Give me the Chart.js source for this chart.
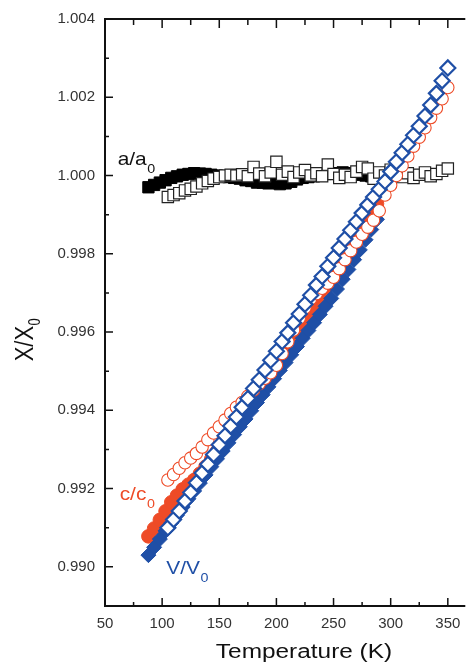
<!DOCTYPE html>
<html lang="en">
<head>
<meta charset="UTF-8">
<title>Lattice parameters vs temperature</title>
<script src="https://cdn.jsdelivr.net/npm/chart.js"></script>
<style>
  html, body { margin: 0; padding: 0; background: #fff; }
</style>
</head>
<body>
<canvas id="latticeChart" width="475" height="664"></canvas>
<script>
// temperatures (K)
const tFilled = [88, 93, 98, 103, 108, 113, 118, 123, 128, 133, 138, 143, 148, 153, 158, 163, 168, 173, 178, 183,
  188, 193, 198, 203, 208, 213, 218, 223, 228, 233, 238, 243, 248, 253, 258, 263, 268, 273, 278, 283, 288, 293, 298];
const tOpen = [105, 110, 115, 120, 125, 130, 135, 140, 145, 150, 155, 160, 165, 170, 175, 180, 185, 190, 195, 200,
  205, 210, 215, 220, 225, 230, 235, 240, 245, 250, 255, 260, 265, 270, 275, 280, 285, 290, 295, 300,
  305, 310, 315, 320, 325, 330, 335, 340, 345, 350];

// a/a0
const aFilled = [0.99970, 0.99976, 0.99982, 0.99988, 0.99994, 0.99998, 1.00002, 1.00004, 1.00006, 1.00005,
  1.00004, 1.00002, 1.00000, 0.99998, 0.99996, 0.99994, 0.99992, 0.99988, 0.99986, 0.99982,
  0.99982, 0.99980, 0.99982, 0.99978, 0.99980, 0.99984, 0.99990, 0.99994, 0.99996, 0.99998,
  1.00002, 1.00004, 1.00006, 1.00006, 1.00008, 1.00006, 1.00004, 1.00002, 1.00000, 0.99998,
  0.99996, 0.99996, 0.99994];
const aOpen = [0.99945, 0.99950, 0.99955, 0.99962, 0.99966, 0.99972, 0.99980, 0.99986, 0.99992, 0.99996,
  1.00000, 1.00002, 1.00000, 1.00003, 0.99998, 1.00022, 1.00005, 0.99998, 1.00008, 1.00035,
  1.00002, 1.00010, 0.99996, 1.00008, 1.00014, 1.00000, 1.00006, 0.99998, 1.00028, 1.00004,
  0.99994, 1.00002, 0.99996, 1.00010, 1.00022, 1.00018, 0.99992, 1.00008, 1.00000, 1.00015,
  1.00004, 0.99996, 1.00006, 0.99994, 1.00002, 1.00008, 0.99998, 1.00004, 1.00012, 1.00018];

// c/c0
const cFilled = [0.99078, 0.99098, 0.99120, 0.99142, 0.99165, 0.99182, 0.99198, 0.99210, 0.99222, 0.99238,
  0.99256, 0.99276, 0.99295, 0.99316, 0.99338, 0.99360, 0.99382, 0.99404, 0.99426, 0.99448,
  0.99468, 0.99488, 0.99508, 0.99528, 0.99550, 0.99572, 0.99594, 0.99616, 0.99640, 0.99664,
  0.99688, 0.99712, 0.99736, 0.99760, 0.99784, 0.99808, 0.99832, 0.99856, 0.99880, 0.99904,
  0.99928];
const cOpen = [0.99222, 0.99236, 0.99252, 0.99266, 0.99278, 0.99290, 0.99306, 0.99325, 0.99342, 0.99358,
  0.99375, 0.99392, 0.99408, 0.99420, 0.99436, 0.99452, 0.99468, 0.99482, 0.99496, 0.99515,
  0.99545, 0.99575, 0.99605, 0.99635, 0.99662, 0.99685, 0.99698, 0.99712, 0.99725, 0.99740,
  0.99762, 0.99785, 0.99808, 0.99830, 0.99850, 0.99868, 0.99886, 0.99910, 0.99950, 0.99975,
  1.00000, 1.00025, 1.00050, 1.00075, 1.00098, 1.00122, 1.00148, 1.00172, 1.00196, 1.00225];

// V/V0
const vFilled = [0.99030, 0.99050, 0.99071, 0.99092, 0.99112, 0.99132, 0.99153, 0.99174, 0.99194, 0.99214,
  0.99235, 0.99256, 0.99276, 0.99296, 0.99317, 0.99338, 0.99358, 0.99378, 0.99399, 0.99420,
  0.99440, 0.99460, 0.99481, 0.99502, 0.99522, 0.99542, 0.99563, 0.99584, 0.99604, 0.99624,
  0.99645, 0.99666, 0.99686, 0.99710, 0.99735, 0.99760, 0.99785, 0.99810, 0.99836, 0.99862,
  0.99888];
const vOpen = [0.99100, 0.99121, 0.99143, 0.99168, 0.99190, 0.99215, 0.99240, 0.99262, 0.99287, 0.99312,
  0.99335, 0.99360, 0.99383, 0.99408, 0.99430, 0.99456, 0.99478, 0.99503, 0.99528, 0.99551,
  0.99576, 0.99598, 0.99624, 0.99646, 0.99671, 0.99694, 0.99720, 0.99742, 0.99768, 0.99790,
  0.99815, 0.99838, 0.99860, 0.99882, 0.99904, 0.99925, 0.99945, 0.99965, 0.99985, 1.00010,
  1.00035, 1.00058, 1.00080, 1.00103, 1.00126, 1.00152, 1.00180, 1.00210, 1.00242, 1.00275];

// axis ticks
const xTicks = [50, 100, 150, 200, 250, 300, 350];
const xMinor = [75, 125, 175, 225, 275, 325];
const yTicks = [0.990, 0.992, 0.994, 0.996, 0.998, 1.000, 1.002, 1.004];
const yMinor = [0.991, 0.993, 0.995, 0.997, 0.999, 1.001, 1.003];

const BLUE = '#1f4fa6';
const RED = '#ee4b27';
const INK = '#111';

function pts(ts, vs) {
  return vs.map((v, i) => ({ x: ts[i], y: v }));
}

// label text with a subscript, anchored at data coordinates
function subLabel(ctx, chart, T, v, main, sub, color) {
  const px = chart.scales.x.getPixelForValue(T);
  const py = chart.scales.y.getPixelForValue(v);
  ctx.save();
  ctx.fillStyle = color;
  ctx.textAlign = 'left';
  ctx.textBaseline = 'alphabetic';
  ctx.translate(px, py);
  ctx.scale(1.1, 1);
  ctx.font = '19px "Liberation Sans", Arial, sans-serif';
  ctx.fillText(main, 0, 0);
  const w = ctx.measureText(main).width;
  ctx.font = '13px "Liberation Sans", Arial, sans-serif';
  ctx.fillText(sub, w + 0.5, 8);
  ctx.restore();
}

const frame = {
  id: 'frame',
  afterDraw(chart) {
    const { ctx, chartArea: a, scales: { x, y } } = chart;
    ctx.save();
    ctx.strokeStyle = INK;
    ctx.lineWidth = 2;
    ctx.beginPath();
    ctx.moveTo(a.right, a.top);
    ctx.lineTo(a.left, a.top);
    ctx.lineTo(a.left, a.bottom);
    ctx.lineTo(a.right, a.bottom);
    ctx.stroke();

    ctx.lineWidth = 1.5;
    ctx.beginPath();
    xTicks.forEach(v => {
      const p = x.getPixelForValue(v);
      ctx.moveTo(p, a.bottom); ctx.lineTo(p, a.bottom - 8);
      ctx.moveTo(p, a.top); ctx.lineTo(p, a.top + 9);
    });
    xMinor.forEach(v => {
      const p = x.getPixelForValue(v);
      ctx.moveTo(p, a.bottom); ctx.lineTo(p, a.bottom - 4);
      ctx.moveTo(p, a.top); ctx.lineTo(p, a.top + 6);
    });
    yTicks.forEach(v => {
      const p = y.getPixelForValue(v);
      ctx.moveTo(a.left, p); ctx.lineTo(a.left + 8, p);
    });
    yMinor.forEach(v => {
      const p = y.getPixelForValue(v);
      ctx.moveTo(a.left, p); ctx.lineTo(a.left + 4, p);
    });
    ctx.stroke();

    // x title
    ctx.fillStyle = INK;
    ctx.save();
    ctx.translate(304, 658);
    ctx.scale(1.22, 1);
    ctx.font = '20px "Liberation Sans", Arial, sans-serif';
    ctx.textAlign = 'center';
    ctx.fillText('Temperature (K)', 0, 0);
    ctx.restore();

    // y title
    ctx.save();
    ctx.translate(33, 340);
    ctx.rotate(-Math.PI / 2);
    ctx.scale(1, 1.2);
    ctx.font = '22px "Liberation Sans", Arial, sans-serif';
    const wm = ctx.measureText('X/X').width;
    ctx.font = '13px "Liberation Sans", Arial, sans-serif';
    const ws = ctx.measureText('0').width;
    const x0 = -(wm + ws) / 2;
    ctx.font = '22px "Liberation Sans", Arial, sans-serif';
    ctx.fillText('X/X', x0, 0);
    ctx.font = '13px "Liberation Sans", Arial, sans-serif';
    ctx.fillText('0', x0 + wm + 0.5, 6);
    ctx.restore();

    subLabel(ctx, chart, 61.1, 1.00028, 'a/a', '0', INK);
    subLabel(ctx, chart, 62.8, 0.99172, 'c/c', '0', RED);
    subLabel(ctx, chart, 103.7, 0.98981, 'V/V', '0', BLUE);
    ctx.restore();
  }
};

const tickFont = { family: '"Liberation Sans", Arial, sans-serif', size: 15 };

new Chart(document.getElementById('latticeChart'), {
  type: 'scatter',
  data: {
    datasets: [
      { label: 'V/V0 open', data: pts(tOpen, vOpen), pointStyle: 'rectRot', pointRadius: 7.5,
        borderColor: BLUE, backgroundColor: '#fff', borderWidth: 2.2 },
      { label: 'c/c0 open', data: pts(tOpen, cOpen), pointStyle: 'circle', pointRadius: 6.2,
        borderColor: RED, backgroundColor: '#fff', borderWidth: 1.1 },
      { label: 'V/V0 filled', data: pts(tFilled, vFilled), pointStyle: 'rectRot', pointRadius: 7.5,
        borderColor: BLUE, backgroundColor: BLUE, borderWidth: 1 },
      { label: 'c/c0 filled', data: pts(tFilled, cFilled), pointStyle: 'circle', pointRadius: 6.8,
        borderColor: RED, backgroundColor: RED, borderWidth: 1 },
      { label: 'a/a0 open', data: pts(tOpen, aOpen), pointStyle: 'rect', pointRadius: 8,
        borderColor: '#222', backgroundColor: '#fff', borderWidth: 1.2 },
      { label: 'a/a0 filled', data: pts(tFilled, aFilled), pointStyle: 'rect', pointRadius: 8,
        borderColor: '#000', backgroundColor: '#000', borderWidth: 1 }
    ]
  },
  options: {
    responsive: false,
    animation: false,
    layout: { padding: { left: 0, right: 0, top: 18, bottom: 0 } },
    plugins: { legend: { display: false }, tooltip: { enabled: false } },
    scales: {
      x: {
        type: 'linear', min: 50, max: 365.3,
        grid: { display: false, drawTicks: false },
        border: { display: false },
        afterBuildTicks: s => { s.ticks = xTicks.map(v => ({ value: v })); },
        afterFit: s => { s.height = 58; },
        ticks: { color: '#333', font: tickFont, padding: 9, maxRotation: 0, callback: v => String(v) }
      },
      y: {
        type: 'linear', min: 0.989, max: 1.004,
        grid: { display: false, drawTicks: false },
        border: { display: false },
        afterBuildTicks: s => { s.ticks = yTicks.map(v => ({ value: v })); },
        afterFit: s => { s.width = 105; },
        ticks: { color: '#333', font: tickFont, padding: 10, callback: v => Number(v).toFixed(3) }
      }
    }
  },
  plugins: [frame]
});
</script>
</body>
</html>
